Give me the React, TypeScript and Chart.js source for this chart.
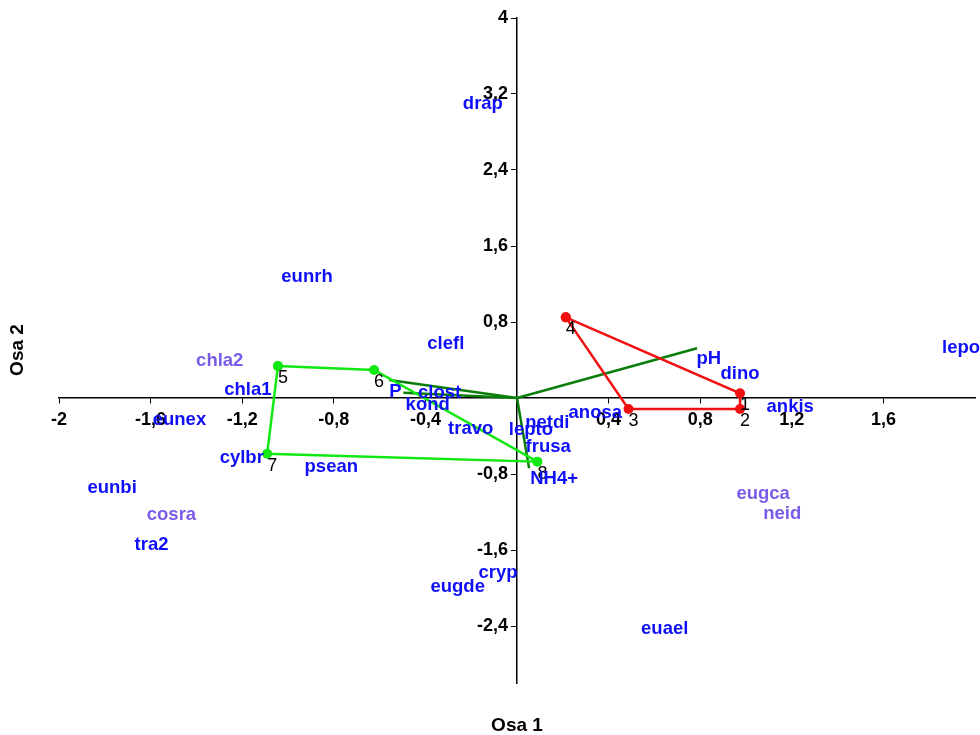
import { useEffect, useRef } from 'react';
import { Chart, registerables } from 'chart.js';

Chart.register(...registerables);

// ---- data ----
const siteIds = ['1', '2', '3', '4', '5', '6', '7', '8'];
const siteX = [0.974, 0.974, 0.487, 0.213, -1.044, -0.624, -1.091, 0.089];
const siteY = [0.05, -0.116, -0.116, 0.849, 0.337, 0.295, -0.586, -0.67];
const redHull = [3, 0, 1, 2, 3];
const greenHull = [4, 5, 7, 6, 4];

const envX = [0.786, -0.558, -0.496, 0.053];
const envY = [0.523, 0.189, 0.056, -0.74];

const labelNames = [
  'drap', 'eunrh', 'lepo', 'clefl', 'chla2', 'chla1', 'eunex', 'cylbr', 'psean', 'eunbi',
  'cosra', 'tra2', 'cryp', 'eugde', 'euael', 'eugca', 'neid', 'pH', 'dino', 'ankis',
  'anosa', 'netdi', 'lepto', 'frusa', 'NH4+', 'P', 'clost', 'kond', 'travo',
];
const labelX = [
  -0.149, -0.917, 1.939, -0.311, -1.298, -1.175, -1.474, -1.202, -0.811, -1.768,
  -1.509, -1.596, -0.083, -0.259, 0.645, 1.075, 1.158, 0.838, 0.974, 1.193,
  0.342, 0.132, 0.061, 0.136, 0.162, -0.531, -0.338, -0.39, -0.202,
];
const labelY = [
  3.095, 1.274, 0.526, 0.568, 0.389, 0.084, -0.232, -0.632, -0.726, -0.947,
  -1.232, -1.547, -1.842, -1.989, -2.432, -1.011, -1.221, 0.411, 0.253, -0.095,
  -0.158, -0.263, -0.337, -0.516, -0.853, 0.063, 0.053, -0.074, -0.326,
];
const labelPurple = ['chla2', 'cosra', 'eugca', 'neid'];

const xTicks = [-2, -1.6, -1.2, -0.8, -0.4, 0.4, 0.8, 1.2, 1.6];
const yTicks = [-2.4, -1.6, -0.8, 0.8, 1.6, 2.4, 3.2, 4];
const xTitle = 'Osa 1';
const yTitle = 'Osa 2';

const FONT = '"Liberation Sans", Arial, sans-serif';
const BLUE = '#1010f8';
const PURPLE = '#7a5ce8';
const RED = '#f01010';
const LIME = '#12e812';
const DARKGREEN = '#0a7d0a';

const fmt = (v: number) => String(Math.round(v * 10) / 10).replace('.', ',');

const textPlugin = {
  id: 'textPlugin',
  afterDatasetsDraw(chart: any) {
    const { ctx, scales, chartArea } = chart;
    const xs = scales.x;
    const ys = scales.y;
    ctx.save();
    // site numbers
    ctx.font = `18px ${FONT}`;
    ctx.fillStyle = '#000';
    ctx.textAlign = 'center';
    ctx.textBaseline = 'middle';
    siteIds.forEach((id, i) => {
      const px = xs.getPixelForValue(siteX[i]);
      const py = ys.getPixelForValue(siteY[i]);
      ctx.fillText(id, px + 5, py + 12);
    });
    // species / variable labels
    ctx.font = `bold 18.5px ${FONT}`;
    labelNames.forEach((name, i) => {
      ctx.fillStyle = labelPurple.includes(name) ? PURPLE : BLUE;
      ctx.fillText(name, xs.getPixelForValue(labelX[i]), ys.getPixelForValue(labelY[i]));
    });
    // axis titles
    ctx.fillStyle = '#000';
    ctx.font = `bold 19px ${FONT}`;
    ctx.fillText(xTitle, (chartArea.left + chartArea.right) / 2, 726);
    ctx.translate(18, 350);
    ctx.rotate(-Math.PI / 2);
    ctx.fillText(yTitle, 0, 0);
    ctx.restore();
  },
};

function zeroFit(scale: any) {
  scale.paddingLeft = 0;
  scale.paddingRight = 0;
  scale.paddingTop = 0;
  scale.paddingBottom = 0;
}

export default function App() {
  const ref = useRef<HTMLCanvasElement>(null);
  useEffect(() => {
    if (!ref.current) return;
    const pt = (i: number) => ({ x: siteX[i], y: siteY[i] });
    const datasets: any[] = [
      {
        data: redHull.map(pt),
        showLine: true,
        borderColor: RED,
        borderWidth: 2.5,
        pointRadius: 5,
        pointBackgroundColor: RED,
        pointBorderWidth: 0,
      },
      {
        data: greenHull.map(pt),
        showLine: true,
        borderColor: LIME,
        borderWidth: 2.5,
        pointRadius: 5,
        pointBackgroundColor: LIME,
        pointBorderWidth: 0,
      },
      ...envX.map((ex, i) => ({
        data: [{ x: 0, y: 0 }, { x: ex, y: envY[i] }],
        showLine: true,
        borderColor: DARKGREEN,
        borderWidth: 2.5,
        pointRadius: 0,
      })),
      {
        data: labelNames.map((_, i) => ({ x: labelX[i], y: labelY[i] })),
        showLine: false,
        pointRadius: 0,
      },
    ];
    const chart = new Chart(ref.current, {
      type: 'scatter',
      data: { datasets },
      options: {
        animation: false,
        responsive: false,
        events: [],
        layout: { padding: { left: 59, right: 3, top: 18, bottom: 52 } },
        plugins: { legend: { display: false }, tooltip: { enabled: false } },
        scales: {
          x: {
            type: 'linear',
            min: -2,
            max: 2,
            position: { y: 0 } as any,
            afterBuildTicks: (s: any) => { s.ticks = xTicks.map((v) => ({ value: v })); },
            afterFit: zeroFit,
            grid: { display: true, drawOnChartArea: false, drawTicks: true, tickLength: 5, color: '#000', lineWidth: 1 },
            border: { display: true, color: '#000', width: 1.5 },
            ticks: {
              color: '#000',
              font: { family: FONT, size: 18, weight: 'bold' },
              padding: 6,
              maxRotation: 0,
              autoSkip: false,
              callback: (v: any) => fmt(Number(v)),
            },
          },
          y: {
            type: 'linear',
            min: -3,
            max: 4,
            position: 'center',
            afterBuildTicks: (s: any) => { s.ticks = yTicks.map((v) => ({ value: v })); },
            afterFit: zeroFit,
            grid: { display: true, drawOnChartArea: false, drawTicks: true, tickLength: 5, color: '#000', lineWidth: 1 },
            border: { display: true, color: '#000', width: 1.5 },
            ticks: {
              color: '#000',
              font: { family: FONT, size: 18, weight: 'bold' },
              padding: 4,
              autoSkip: false,
              callback: (v: any) => fmt(Number(v)),
            },
          },
        },
      },
      plugins: [textPlugin],
    });
    return () => chart.destroy();
  }, []);
  return (
    <div style={{ position: 'absolute', left: 0, top: 0, width: 980, height: 735, background: '#fff' }}>
      <canvas ref={ref} width={980} height={735} style={{ width: 980, height: 735 }} />
    </div>
  );
}
